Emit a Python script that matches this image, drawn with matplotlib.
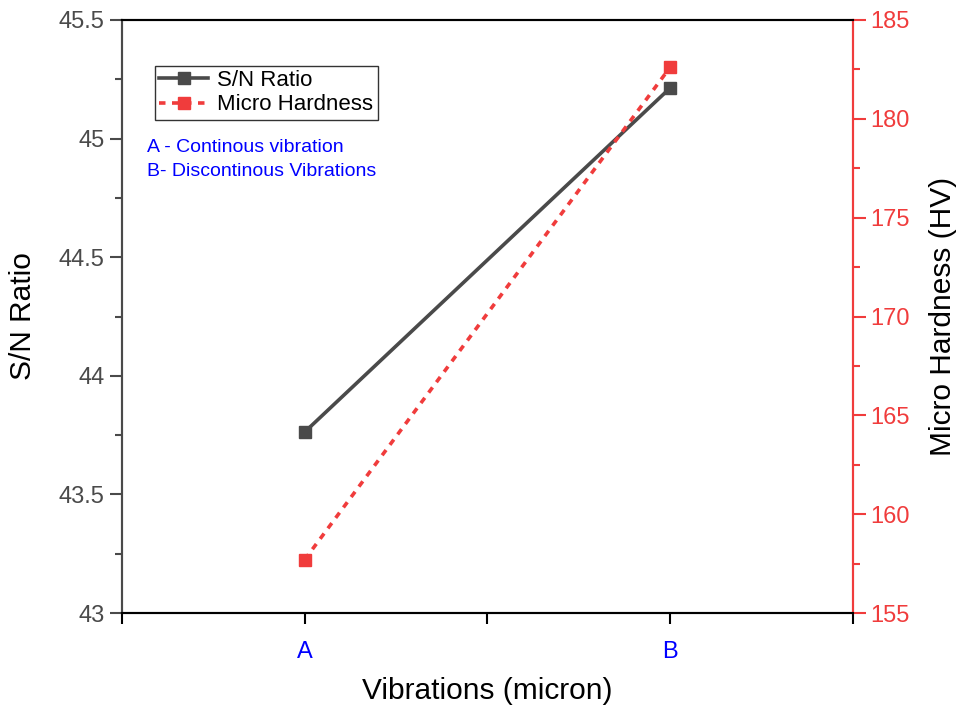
import matplotlib
matplotlib.use("Agg")
import matplotlib.pyplot as plt
from matplotlib.ticker import MultipleLocator, FormatStrFormatter

plt.rcParams['font.family'] = ['Liberation Sans', 'DejaVu Sans']

# data
categories = ['A', 'B']
sn_ratio = [43.763, 45.213]
micro_hardness = [157.7, 182.6]

GREY = '#4a4a4a'
RED = '#f03c3c'
BLUE = '#0000ff'

fig = plt.figure(figsize=(9.57, 7.11), dpi=100)
ax = fig.add_axes([0.1275, 0.1378, 0.7635, 0.8341])
ax2 = ax.twinx()

xpos = [1, 2]
l1, = ax.plot(xpos, sn_ratio, '-s', color=GREY, lw=2.6, ms=9, label='S/N Ratio')
l2, = ax2.plot(xpos, micro_hardness, 's', ls=(0, (1.8, 1.8)), color=RED, lw=2.6, ms=9,
               label='Micro Hardness')

ax.set_xlim(0.5, 2.5)
ax.set_ylim(43, 45.5)
ax2.set_ylim(155, 185)

ax.set_xticks(xpos)
ax.set_xticklabels(categories)
ax.set_xticks([0.5, 1.5, 2.5], minor=True)
ax.yaxis.set_major_locator(MultipleLocator(0.5))
ax.yaxis.set_minor_locator(MultipleLocator(0.25))
ax.yaxis.set_major_formatter(FormatStrFormatter('%g'))
ax2.yaxis.set_major_locator(MultipleLocator(5))
ax2.yaxis.set_minor_locator(MultipleLocator(2.5))

ax.tick_params(axis='x', which='both', direction='out', colors='black', labelcolor=BLUE,
               labelsize=17, width=1.5, length=8, pad=12)
ax.tick_params(axis='y', which='both', direction='out', colors=GREY, labelcolor=GREY,
               labelsize=17, width=1.5)
ax.tick_params(axis='y', which='major', length=9)
ax.tick_params(axis='y', which='minor', length=5)
ax2.tick_params(axis='y', which='both', direction='out', colors=RED, labelcolor=RED,
                labelsize=17, width=1.5)
ax2.tick_params(axis='y', which='major', length=9)
ax2.tick_params(axis='y', which='minor', length=5)

for a in (ax, ax2):
    a.spines['left'].set_color(GREY)
    a.spines['right'].set_color(RED)
    a.spines['top'].set_color('black')
    a.spines['bottom'].set_color('black')
    for s in a.spines.values():
        s.set_linewidth(1.5)

ax.set_xlabel('Vibrations (micron)', fontsize=21.5, labelpad=10)
ax.set_ylabel('S/N Ratio', fontsize=21.5, labelpad=16)
ax2.set_ylabel('Micro Hardness (HV)', fontsize=21.5, labelpad=14)

leg = ax.legend(handles=[l1, l2], loc='upper left', bbox_to_anchor=(0.045, 0.923),
                fontsize=16, frameon=True, fancybox=False, edgecolor='black',
                borderpad=0.2, handlelength=2.2, handletextpad=0.4, labelspacing=0.15,
                borderaxespad=0)
leg.get_frame().set_linewidth(1.0)

ax.text(0.034, 0.785, 'A - Continous vibration', transform=ax.transAxes,
        color=BLUE, fontsize=14, va='center')
ax.text(0.034, 0.745, 'B- Discontinous Vibrations', transform=ax.transAxes,
        color=BLUE, fontsize=14, va='center')

fig.savefig('out.png', dpi=100)
